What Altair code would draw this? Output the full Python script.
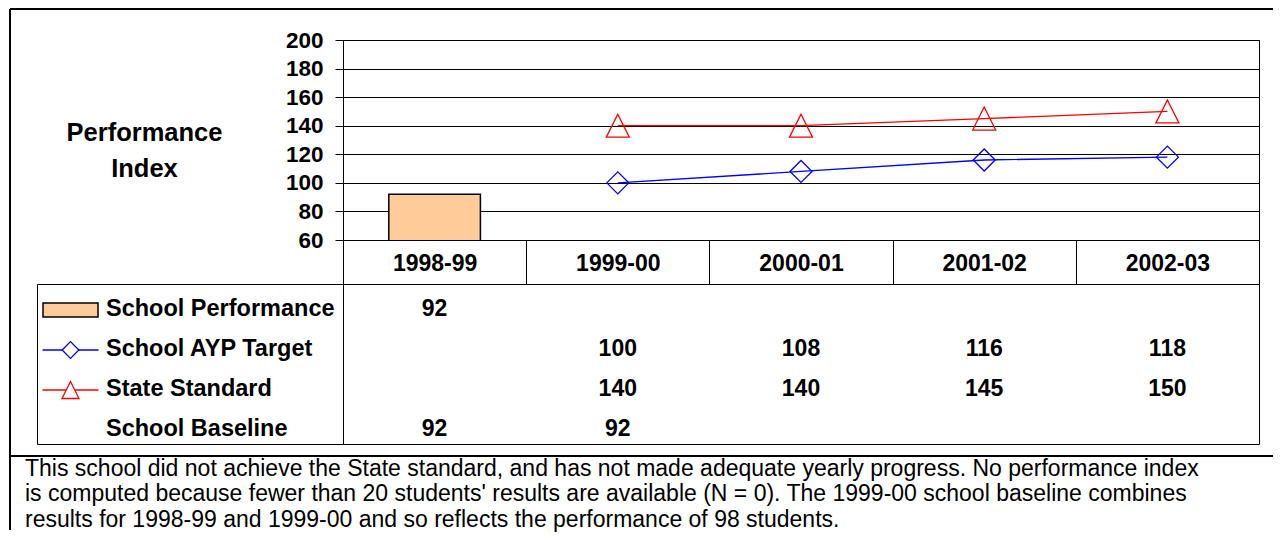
import altair as alt
import pandas as pd

# ---------------- data ----------------
years = ["1998-99", "1999-00", "2000-01", "2001-02", "2002-03"]
rows = ["School Performance", "School AYP Target", "State Standard", "School Baseline"]

perf_years = ["1998-99"]
perf_values = [92]
ayp_years = ["1999-00", "2000-01", "2001-02", "2002-03"]
ayp_values = [100, 108, 116, 118]
state_years = ["1999-00", "2000-01", "2001-02", "2002-03"]
state_values = [140, 140, 145, 150]
base_years = ["1998-99", "1999-00"]
base_values = [92, 92]

y_ticks = [60, 80, 100, 120, 140, 160, 180, 200]
y_title = ["Performance", "Index"]
footnote = [
    "This school did not achieve the State standard, and has not made adequate yearly progress. No performance index",
    "is computed because fewer than 20 students' results are available (N = 0). The 1999-00 school baseline combines",
    "results for 1998-99 and 1999-00 and so reflects the performance of 98 students.",
]

FONT = "Liberation Sans"
BLUE = "#0000FF"
RED = "#FF0000"
PEACH = "#FFCC99"

perf_df = pd.DataFrame({"year": perf_years, "value": perf_values, "series": rows[0]})
ayp_df = pd.DataFrame({"year": ayp_years, "value": ayp_values, "series": rows[1]})
state_df = pd.DataFrame({"year": state_years, "value": state_values, "series": rows[2]})
base_df = pd.DataFrame({"year": base_years, "value": base_values, "series": rows[3]})
table_df = pd.concat([perf_df, ayp_df, state_df, base_df], ignore_index=True)

TRI = "M0,-1L1,1L-1,1Z"
RECT = "M-1,-0.255L1,-0.255L1,0.255L-1,0.255Z"
SEG = "M-1,0L1,0"

# ---------------- top plot ----------------
xband = alt.Scale(domain=years, paddingInner=0, paddingOuter=0)
yscale = alt.Scale(domain=[60, 200], nice=False, zero=False)

x_top = alt.X(
    "year:N", scale=xband, sort=years,
    axis=alt.Axis(orient="bottom", labels=False, domain=False, ticks=True,
                  tickBand="extent", tickSize=44, tickColor="black", tickWidth=1,
                  grid=False, title=None),
)
y_top = alt.Y(
    "value:Q", scale=yscale,
    axis=alt.Axis(values=y_ticks, grid=True, gridColor="black", gridWidth=1, gridOpacity=1,
                  domainColor="black", domainWidth=1, tickColor="black", tickSize=8,
                  labelFont=FONT, labelFontSize=22.5, labelFontWeight="bold", labelColor="black",
                  labelPadding=12,
                  title=y_title, titleAngle=0, titleAlign="center", titleBaseline="middle",
                  titleX=-199, titleY=92, titleFont=FONT, titleFontSize=25.5,
                  titleFontWeight="bold", titleColor="black", titleLineHeight=36),
)

bars = alt.Chart(perf_df).mark_bar(
    width={"band": 0.5}, fill=PEACH, stroke="black", strokeWidth=1.5, clip=True
).encode(x=x_top, y=y_top)
line_ayp = alt.Chart(ayp_df).mark_line(color=BLUE, strokeWidth=1.3).encode(x=x_top, y=y_top)
pts_ayp = alt.Chart(ayp_df).mark_point(
    shape="diamond", size=484, filled=False, color=BLUE, strokeWidth=1.3, opacity=1
).encode(x=x_top, y=y_top)
line_state = alt.Chart(state_df).mark_line(color=RED, strokeWidth=1.3).encode(x=x_top, y=y_top)
pts_state = alt.Chart(state_df).mark_point(
    shape=TRI, size=529, filled=False, color=RED, strokeWidth=1.3, opacity=1
).encode(x=x_top, y=y_top)

top = alt.layer(bars, line_ayp, pts_ayp, line_state, pts_state).properties(width=916, height=200)

# ---------------- data table ----------------
x_tab = alt.X(
    "year:N", scale=xband, sort=years,
    axis=alt.Axis(orient="top", ticks=False, domain=False, labelFont=FONT, labelFontSize=23,
                  labelFontWeight="bold", labelColor="black", labelPadding=21,
                  labelBaseline="middle", labelAngle=0, title=None),
)
row_scale = alt.Scale(domain=rows, paddingInner=0, paddingOuter=0)
y_row = alt.Y("series:N", scale=row_scale, sort=rows, axis=None)

table = alt.Chart(table_df).mark_text(
    font=FONT, fontSize=23, fontWeight="bold", color="black", dy=5
).encode(x=x_tab, y=y_row, text="value:Q").properties(
    width=916, height=160,
    title=alt.TitleParams(text=footnote, orient="bottom", anchor="start", frame="group",
                          font=FONT, fontSize=23, fontWeight="normal", color="black",
                          lineHeight=25.7, baseline="top", offset=13.5, dx=-318),
)

# ---------------- row labels with keys ----------------
col_x = alt.X("col:N", scale=alt.Scale(type="point", domain=["key", "name"], range=[33.5, 69], padding=0),
              axis=None)
lab_df = pd.DataFrame({"series": rows, "col": "name"})
labels_txt = alt.Chart(lab_df).mark_text(
    font=FONT, fontSize=23.5, fontWeight="bold", color="black", align="left", dy=5
).encode(x=col_x, y=y_row, text="series:N")

key_rect = alt.Chart(pd.DataFrame({"series": [rows[0]], "col": ["key"]})).mark_point(
    shape=RECT, size=3025, filled=True, fill=PEACH, stroke="black", strokeWidth=1.5, opacity=1, yOffset=6
).encode(x=col_x, y=y_row)
key_seg_ayp = alt.Chart(pd.DataFrame({"series": [rows[1]], "col": ["key"]})).mark_point(
    shape=SEG, size=3136, filled=False, color=BLUE, strokeWidth=1.3, opacity=1, yOffset=6
).encode(x=col_x, y=y_row)
key_dia = alt.Chart(pd.DataFrame({"series": [rows[1]], "col": ["key"]})).mark_point(
    shape="diamond", size=280, filled=False, fill="white", stroke=BLUE, strokeWidth=1.3, opacity=1, yOffset=6
).encode(x=col_x, y=y_row)
key_seg_state = alt.Chart(pd.DataFrame({"series": [rows[2]], "col": ["key"]})).mark_point(
    shape=SEG, size=3136, filled=False, color=RED, strokeWidth=1.3, opacity=1, yOffset=6
).encode(x=col_x, y=y_row)
key_tri = alt.Chart(pd.DataFrame({"series": [rows[2]], "col": ["key"]})).mark_point(
    shape=TRI, size=289, filled=False, fill="white", stroke=RED, strokeWidth=1.3, opacity=1, yOffset=6
).encode(x=col_x, y=y_row)

labels = alt.layer(labels_txt, key_rect, key_seg_ayp, key_dia, key_seg_state, key_tri).properties(
    width=306, height=160
)

# ---------------- frame (spacer cell) ----------------
frame_df = pd.DataFrame({"k": [0]})
frame_left = alt.Chart(frame_df).mark_rule(color="black", strokeWidth=2).encode(
    x=alt.value(-27), y=alt.value(-31), y2=alt.value(490))
frame_top = alt.Chart(frame_df).mark_rule(color="black", strokeWidth=2).encode(
    x=alt.value(-27), x2=alt.value(1236), y=alt.value(-31))
frame_mid = alt.Chart(frame_df).mark_rule(color="black", strokeWidth=2).encode(
    x=alt.value(-27), x2=alt.value(1236), y=alt.value(416))
spacer = alt.layer(frame_left, frame_top, frame_mid).properties(
    width=306, height=200, view=alt.ViewBackground(stroke="transparent")
)

chart = alt.concat(
    spacer, top, labels, table, columns=2, spacing={"row": 44, "column": 0}, bounds="flush"
).properties(
    padding={"top": -1, "left": 0, "right": 0, "bottom": 0}
).configure(font=FONT).configure_view(stroke="black", strokeWidth=1)

chart.save("out.html", embed_options={"renderer": "svg", "actions": False})
